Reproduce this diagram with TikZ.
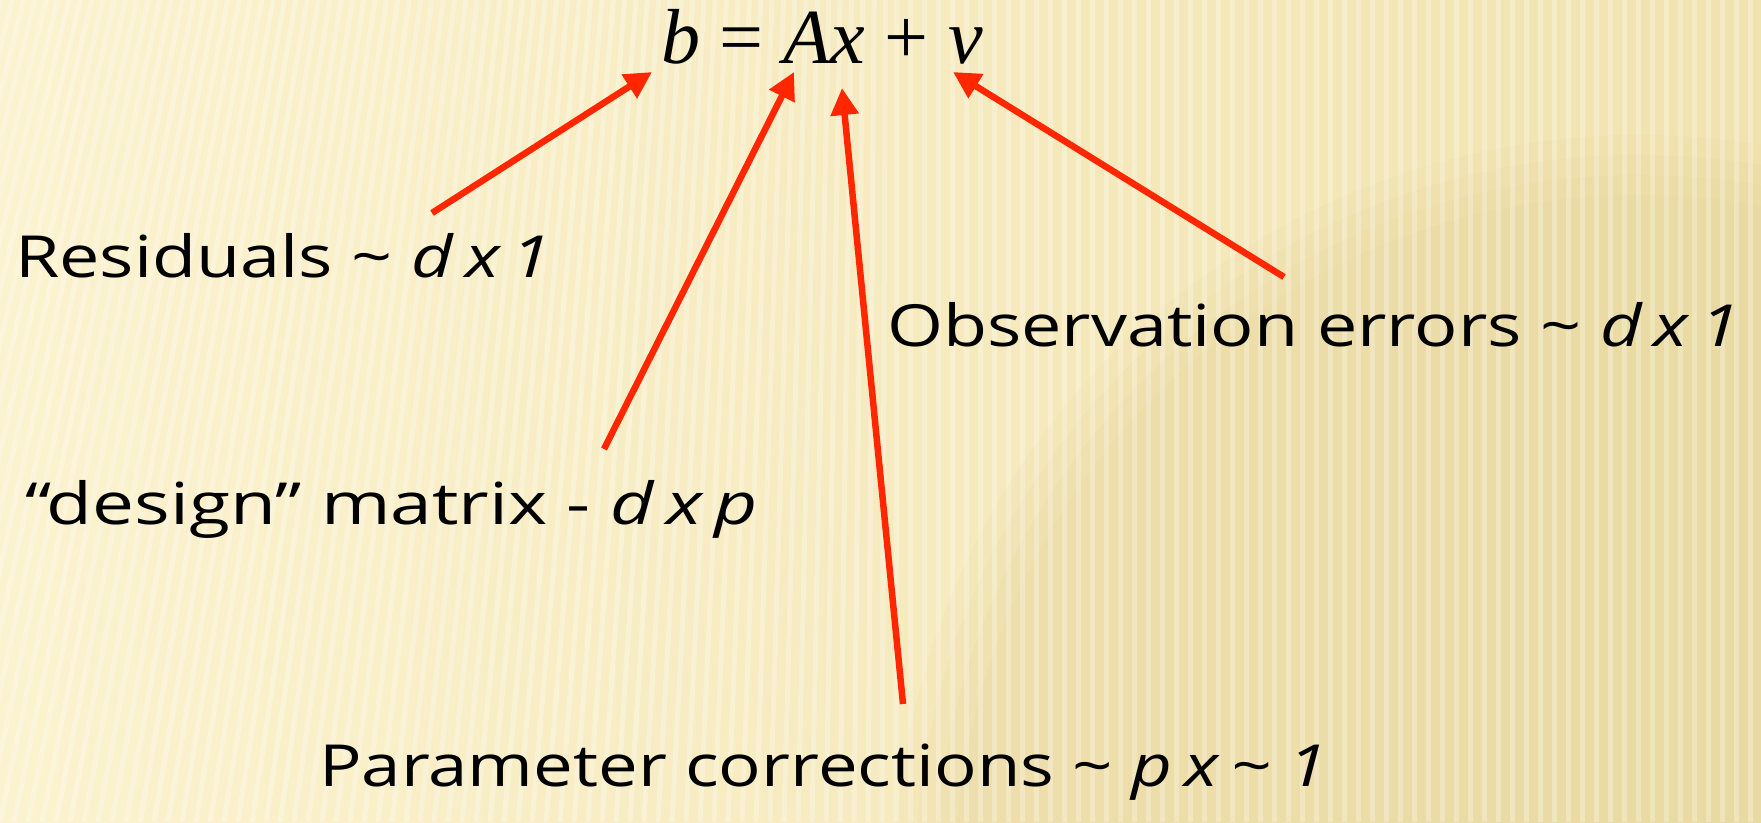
\documentclass[tikz,border=0pt]{standalone}
\usepackage{fontspec}
\setmainfont{Open Sans}
\newfontfamily\eqfont{Liberation Serif}
\usetikzlibrary{arrows.meta}
\definecolor{bgA}{RGB}{251,242,207}
\definecolor{bgB}{RGB}{241,227,176}
\definecolor{bgC}{RGB}{222,200,134}
\definecolor{arr}{RGB}{255,38,0}
\newcommand\wideby[2]{\scalebox{#1}[1]{#2}}
\begin{document}
\begin{tikzpicture}[x=1pt,y=-1pt,
  lab/.style={anchor=base west, inner sep=0pt, font=\fontsize{58}{70}\selectfont},
  arrowline/.style={draw=arr, line width=6.5pt, -{Triangle[length=27pt,width=27pt]}}]
\useasboundingbox (0,0) rectangle (1761,822);
\shade[left color=bgA, right color=bgB] (0,0) rectangle (1761,822);
\begin{scope}
\clip (0,0) rectangle (1761,822);
\foreach \r in {745,725,705,685}{
  \fill[bgC, opacity=0.08] (1640,880) circle[radius=\r pt];
}
\foreach \i in {-20,...,130}{
  \pgfmathsetmacro\xx{\i*14}
  \pgfmathsetmacro\ss{max(0,900-\xx)*0.19}
  \draw[white, opacity=0.28, line width=5pt] (\xx+\ss,0) -- (\xx,822);
}
\end{scope}
% equation
\node[anchor=base west, inner sep=0pt, font=\eqfont\fontsize{78}{84}\selectfont] (eq) at (661,63)
  {\textit{b} = \textit{Ax} + \textit{v}};
% labels
\node[lab] (res) at (15,277) {\wideby{1.24}{Residuals \textasciitilde\ {\itshape d\,x\,1}}};
\node[lab] (obs) at (887,346) {\wideby{1.24}{Observation errors \textasciitilde\ {\itshape d\,x\,1}}};
\node[lab] (des) at (25,524) {\wideby{1.29}{“design” matrix - {\itshape d\,x\,p}}};
\node[lab] (par) at (319,786) {\wideby{1.22}{Parameter corrections \textasciitilde\ {\itshape p\,x\,\textasciitilde\ 1}}};
% arrow ends
\coordinate (tb) at (652,72);  \coordinate (rb) at (432,213);
\coordinate (tA) at (794,72);  \coordinate (rA) at (604,449);
\coordinate (tx) at (842,88);  \coordinate (rx) at (903,704);
\coordinate (tv) at (953,72);  \coordinate (rv) at (1284,277);
\draw[arrowline] (rb) -- (tb);
\draw[arrowline] (rA) -- (tA);
\draw[arrowline] (rx) -- (tx);
\draw[arrowline] (rv) -- (tv);
\end{tikzpicture}
\end{document}
